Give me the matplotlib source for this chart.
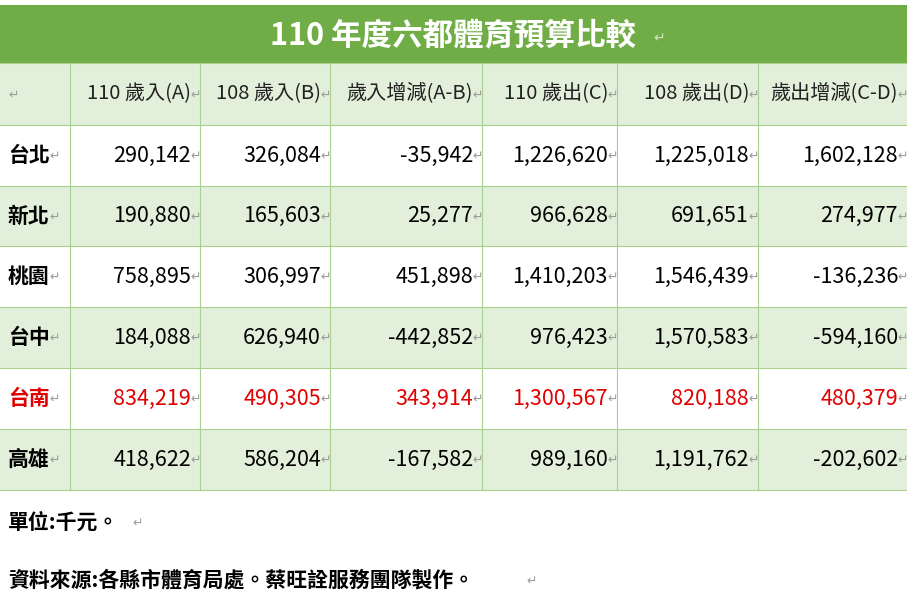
import matplotlib
matplotlib.use("Agg")
import matplotlib.pyplot as plt
from matplotlib.patches import Rectangle

plt.rcParams['font.family'] = ['Noto Sans CJK TC', 'DejaVu Sans']

title = "110 年度六都體育預算比較"
columns = ["110 歲入(A)", "108 歲入(B)", "歲入增減(A-B)", "110 歲出(C)", "108 歲出(D)", "歲出增減(C-D)"]
cities = ["台北", "新北", "桃園", "台中", "台南", "高雄"]
income_110 = [290142, 190880, 758895, 184088, 834219, 418622]
income_108 = [326084, 165603, 306997, 626940, 490305, 586204]
income_diff = [-35942, 25277, 451898, -442852, 343914, -167582]
expense_110 = [1226620, 966628, 1410203, 976423, 1300567, 989160]
expense_108 = [1225018, 691651, 1546439, 1570583, 820188, 1191762]
expense_diff = [1602128, 274977, -136236, -594160, 480379, -202602]
highlight_city = "台南"
note1 = "單位:千元。"
note2 = "資料來源:各縣市體育局處。蔡旺詮服務團隊製作。"

W, H = 907, 607
fig = plt.figure(figsize=(W/100, H/100), dpi=100)
ax = fig.add_axes([0, 0, 1, 1])
ax.set_xlim(0, W); ax.set_ylim(H, 0); ax.axis('off')

green = '#70AD47'; light = '#E2EFDA'; border = '#A9D08E'; mark = '#9A9A9A'
xs = [0, 70, 200, 330, 482, 617, 758, 907]
ys = [63, 125, 186, 246, 307, 368, 429, 490]

ax.add_patch(Rectangle((0, 5), W, 58, color=green, lw=0))
ax.text(453, 35, title, color='white', fontsize=22, fontweight='bold', ha='center', va='center')
ax.text(653, 38, "↵", color='#D0E4C0', fontsize=10, ha='left', va='center')

def mk(x, y):
    ax.text(x, y + 1, "↵", color=mark, fontsize=9, ha='left', va='center')

for r in range(7):
    fc = light if r % 2 == 0 else 'white'
    ax.add_patch(Rectangle((0, ys[r]), W, ys[r+1]-ys[r], color=fc, lw=0))
for x in xs[1:-1]:
    ax.plot([x, x], [ys[0], ys[-1]], color=border, lw=0.8)
for y in ys:
    ax.plot([0, W], [y, y], color=border, lw=0.8)

yc = (ys[0]+ys[1])/2
mk(8, yc)
for i, c in enumerate(columns):
    ax.text(xs[i+2]-9, yc, c, fontsize=14.5, ha='right', va='center', color='#222222')
    mk(xs[i+2]-10, yc)

data = [income_110, income_108, income_diff, expense_110, expense_108, expense_diff]
for r, city in enumerate(cities):
    yc = (ys[r+1]+ys[r+2])/2
    col = '#E00000' if city == highlight_city else 'black'
    ax.text(8, yc, city, fontsize=15, fontweight='bold', ha='left', va='center', color=col)
    mk(49, yc)
    for i, series in enumerate(data):
        ax.text(xs[i+2]-9, yc, f"{series[r]:,}", fontsize=15.5, ha='right', va='center', color=col)
        mk(xs[i+2]-10, yc)

ax.text(8, 522, note1, fontsize=15, fontweight='bold', ha='left', va='center')
mk(132, 522)
ax.text(8, 580, note2, fontsize=15, fontweight='bold', ha='left', va='center')
mk(526, 580)

fig.savefig("out.png", dpi=100)
